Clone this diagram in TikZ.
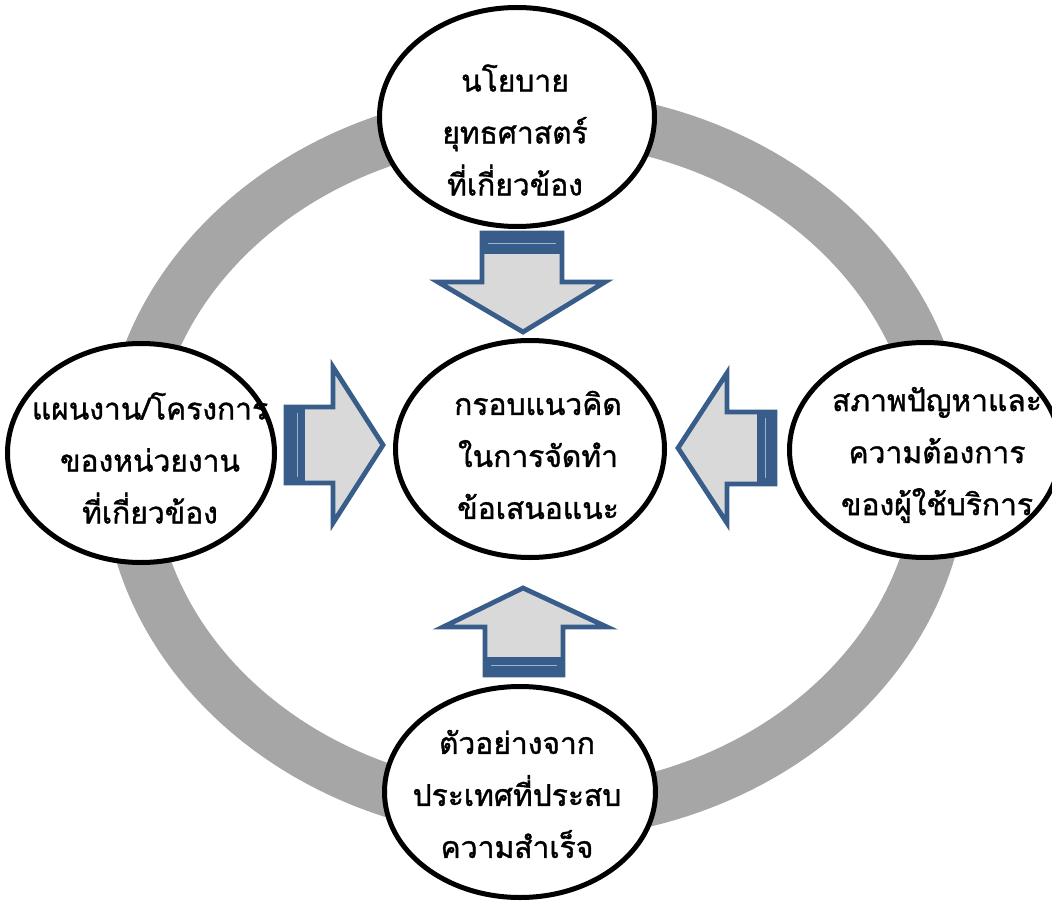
\documentclass[tikz,border=0pt]{standalone}
\usepackage{fontspec}
\newfontfamily\thaifont[Script=Thai,FakeBold=1.2]{Loma}
\usetikzlibrary{shapes.geometric}
\definecolor{ringgray}{HTML}{A6A6A6}
\definecolor{arrowblue}{HTML}{385D8A}
\definecolor{arrowfill}{HTML}{D9D9D9}
\definecolor{bandline}{HTML}{9DB3D0}
\tikzset{
  bubble/.style={ellipse, draw=black, line width=5pt, fill=white, inner sep=0pt},
  bubbletext/.style={align=center, inner sep=0pt, font=\thaifont\fontsize{30}{52}\selectfont},
  blockarrow/.style={draw=arrowblue, line width=4.8pt, fill=arrowfill, line join=miter},
  band/.style={fill=arrowblue},
  bandstripe/.style={draw=bandline, line width=1pt}
}
\begin{document}
\begin{tikzpicture}[x=1pt,y=-1pt]
\useasboundingbox (0,0) rectangle (1052,901);
% ring
\draw[ringgray, line width=52pt] (535,465) ellipse [x radius=407, y radius=349];
% bubbles
\node[bubble, minimum width=275pt, minimum height=219pt] (top) at (517,117) {};
\node[bubble, minimum width=267pt, minimum height=219pt] (left) at (141,453) {};
\node[bubble, minimum width=269pt, minimum height=217pt] (center) at (530,449) {};
\node[bubble, minimum width=271pt, minimum height=215pt] (right) at (925,450) {};
\node[bubble, minimum width=271pt, minimum height=211pt] (bottom) at (520,792) {};
% texts
\node[bubbletext] (ttop) at (515,130) {นโยบาย\\ยุทธศาสตร์\\ที่เกี่ยวข้อง};
\node[bubbletext] (tleft) at (150,458) {แผนงาน/โครงการ\\ของหน่วยงาน\\ที่เกี่ยวข้อง};
\node[bubbletext] (tcenter) at (538,455) {กรอบแนวคิด\\ในการจัดทำ\\ข้อเสนอแนะ};
\node[bubbletext] (tright) at (937,455) {สภาพปัญหาและ\\ความต้องการ\\ของผู้ใช้บริการ};
\node[bubbletext] (tbottom) at (517,794) {ตัวอย่างจาก\\ประเทศที่ประสบ\\ความสำเร็จ};
% down arrow (from top)
\draw[blockarrow] (482,233) -- (562,233) -- (562,282) -- (605,282) -- (523,332) -- (438,282) -- (482,282) -- cycle;
\fill[band] (480,231) rectangle (564,254);
\draw[bandstripe] (488,244) -- (556,244);
% right arrow (from left)
\draw[blockarrow] (286,407) -- (333,407) -- (333,367) -- (383,445) -- (333,523) -- (333,483) -- (286,483) -- cycle;
\fill[band] (284,405) rectangle (305,485);
\draw[bandstripe] (297,413) -- (297,477);
% left arrow (from right)
\draw[blockarrow] (775,412) -- (727,412) -- (727,373) -- (678,448) -- (727,523) -- (727,484) -- (775,484) -- cycle;
\fill[band] (757,410) rectangle (777,486);
\draw[bandstripe] (765,418) -- (765,478);
% up arrow (from bottom)
\draw[blockarrow] (485,675) -- (485,627) -- (443,627) -- (523,588) -- (607,627) -- (563,627) -- (563,675) -- cycle;
\fill[band] (483,657) rectangle (565,677);
\draw[bandstripe] (491,665) -- (557,665);
\end{tikzpicture}
\end{document}
